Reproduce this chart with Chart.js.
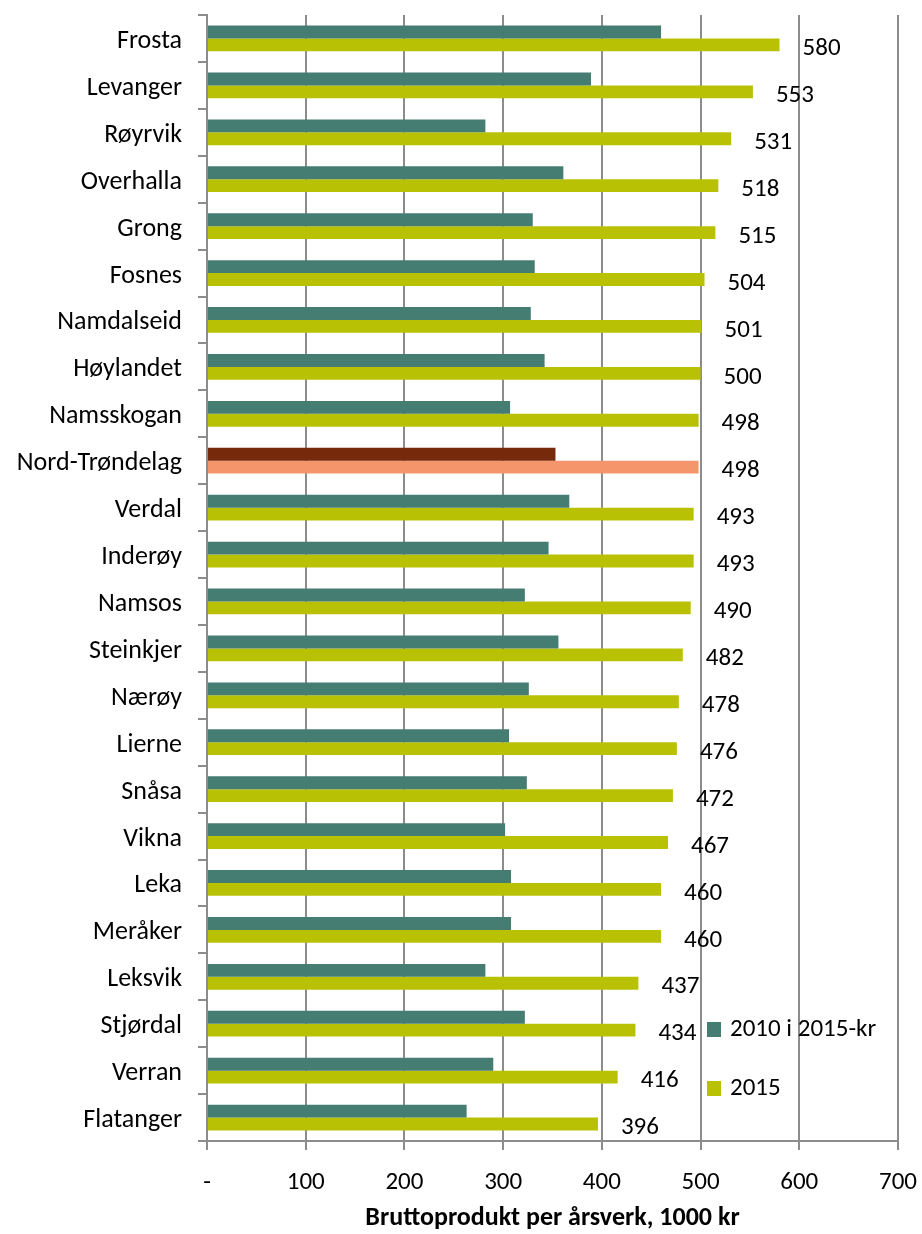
<!DOCTYPE html>
<html>
<head>
<meta charset="utf-8">
<script src="https://cdn.jsdelivr.net/npm/chart.js@4/dist/chart.umd.min.js"></script>
<style>
html,body{margin:0;padding:0;background:#fff;}
#wrap{width:922px;height:1234px;position:relative;}
</style>
</head>
<body>
<div id="wrap"><canvas id="c" width="922" height="1234"></canvas></div>
<script>
const categories = ["Frosta","Levanger","Røyrvik","Overhalla","Grong","Fosnes","Namdalseid","Høylandet","Namsskogan","Nord-Trøndelag","Verdal","Inderøy","Namsos","Steinkjer","Nærøy","Lierne","Snåsa","Vikna","Leka","Meråker","Leksvik","Stjørdal","Verran","Flatanger"];
const values2010 = [460,389,282,361,330,332,328,342,307,353,367,346,322,356,326,306,324,302,308,308,282,322,290,263];
const values2015 = [580,553,531,518,515,504,501,500,498,498,493,493,490,482,478,476,472,467,460,460,437,434,416,396];
const seriesNames = ["2010 i 2015-kr","2015"];
const xTicks = [0,100,200,300,400,500,600,700];
const highlight = "Nord-Trøndelag";
const axisTitle = "Bruttoprodukt per årsverk, 1000 kr";

const FONT = "Carlito, Lato, 'Open Sans', sans-serif";
const FS = 25;
const C2010 = "#467D72", C2015 = "#B8C104";
const H2010 = "#77290C", H2015 = "#F4956C";
const col2010 = categories.map(c => c === highlight ? H2010 : C2010);
const col2015 = categories.map(c => c === highlight ? H2015 : C2015);

const labelPlugin = {
  id: 'labels2015',
  afterDatasetsDraw(chart) {
    const ctx = chart.ctx;
    const meta = chart.getDatasetMeta(1);
    ctx.save();
    ctx.font = FS + "px " + FONT;
    ctx.fillStyle = "#000";
    ctx.textAlign = "left";
    ctx.textBaseline = "middle";
    meta.data.forEach((bar, i) => {
      ctx.fillText(String(values2015[i]), bar.x + 23, bar.y + 4);
    });
    // legend inside plot
    const ca = chart.chartArea;
    const lx = ca.right - 191;
    const ys = [ca.bottom - 112, ca.bottom - 53];
    const cols = [C2010, C2015];
    seriesNames.forEach((n, k) => {
      ctx.fillStyle = cols[k];
      ctx.fillRect(lx, ys[k] - 7, 14, 15);
      ctx.fillStyle = "#000";
      ctx.fillText(n, lx + 23, ys[k] + 1);
    });
    ctx.restore();
  }
};

new Chart(document.getElementById('c'), {
  type: 'bar',
  data: {
    labels: categories,
    datasets: [
      { label: seriesNames[0], data: values2010, backgroundColor: col2010, borderWidth: 0, categoryPercentage: 0.55, barPercentage: 1.0 },
      { label: seriesNames[1], data: values2015, backgroundColor: col2015, borderWidth: 0, categoryPercentage: 0.55, barPercentage: 1.0 }
    ]
  },
  options: {
    indexAxis: 'y',
    responsive: false,
    animation: false,
    devicePixelRatio: 1,
    layout: { padding: { top: 15, right: 24, left: 0, bottom: 0 } },
    plugins: { legend: { display: false }, tooltip: { enabled: false } },
    scales: {
      x: {
        min: 0, max: 700,
        afterBuildTicks: (s) => { s.ticks = xTicks.map(v => ({ value: v })); },
        afterFit: (s) => { s.height = 93; s.paddingLeft = 0; s.paddingRight = 0; },
        border: { display: true, color: '#8c8c8c', width: 2 },
        grid: { display: true, color: '#8c8c8c', lineWidth: 2, drawTicks: true, tickLength: 9, tickColor: '#8c8c8c' },
        ticks: {
          padding: 18,
          color: '#000',
          font: { family: FONT, size: FS },
          maxRotation: 0,
          callback: (v) => v === 0 ? '-' : String(v)
        },
        title: {
          display: true,
          text: axisTitle,
          color: '#000',
          font: { family: FONT, size: 26, weight: 'bold' },
          padding: { top: 0, bottom: 0 }
        }
      },
      y: {
        afterFit: (s) => { s.width = 207; s.paddingTop = 0; s.paddingBottom = 0; },
        border: { display: true, color: '#8c8c8c', width: 2 },
        grid: { display: true, drawOnChartArea: false, drawTicks: true, tickLength: 9, offset: true, color: '#8c8c8c', lineWidth: 2 },
        ticks: {
          padding: 16,
          labelOffset: 3,
          color: '#000',
          font: { family: FONT, size: 26 },
          autoSkip: false
        }
      }
    }
  },
  plugins: [labelPlugin]
});
</script>
</body>
</html>
